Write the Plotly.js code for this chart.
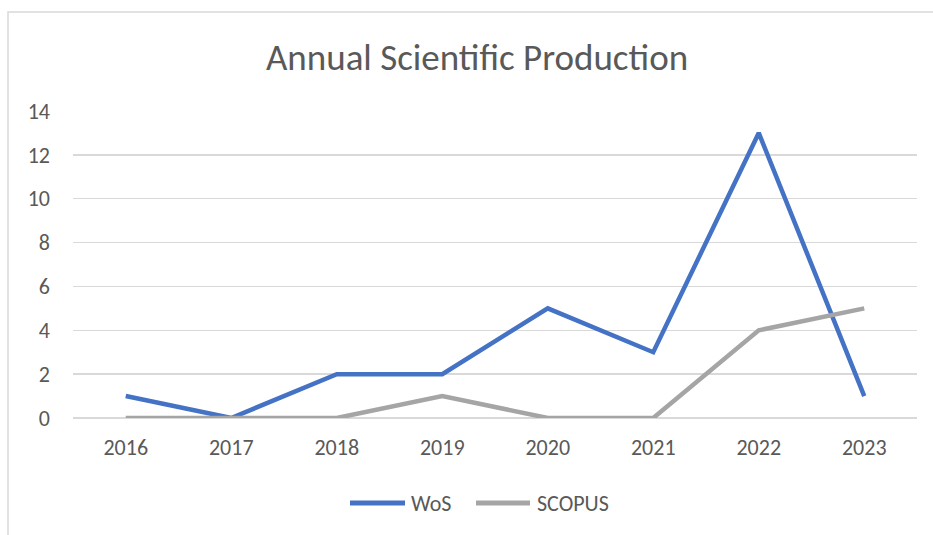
<!DOCTYPE html>
<html>
<head>
<meta charset="utf-8">
<script src="https://cdn.plot.ly/plotly-3.0.1.min.js"></script>
<style>html,body{margin:0;padding:0;background:#fff;}#chart{width:933px;height:535px;}</style>
</head>
<body>
<div id="chart"></div>
<script>
const years = ['2016','2017','2018','2019','2020','2021','2022','2023'];
const wos = [1, 0, 2, 2, 5, 3, 13, 1];
const scopus = [0, 0, 0, 1, 0, 0, 4, 5];
const yTicks = [0, 2, 4, 6, 8, 10, 12, 14];
const seriesNames = ['WoS', 'SCOPUS'];
const seriesColors = ['#4472C4', '#A5A5A5'];

const font = "Calibri, Carlito, Lato, 'Open Sans', 'Liberation Sans', sans-serif";
const traces = [
  {x: years, y: wos, name: seriesNames[0], type: 'scatter', mode: 'lines',
   line: {color: seriesColors[0], width: 4.5}, showlegend: false},
  {x: years, y: scopus, name: seriesNames[1], type: 'scatter', mode: 'lines',
   line: {color: seriesColors[1], width: 4.5}, showlegend: false}
];
const L = 73, R = 917, T = 111, B = 418;
const pw = R - L, ph = B - T;
const px = v => (v - L) / pw;
const py = v => (B - v) / ph;

// custom legend (long line samples like the original)
const legY = 503;
const legItems = [
  {x0: 350, x1: 405, tx: 409},
  {x0: 476, x1: 530, tx: 535}
];
const shapes = [{type: 'rect', xref: 'paper', yref: 'paper',
  x0: px(8), x1: px(940), y0: py(545), y1: py(12),
  line: {color: '#D9D9D9', width: 1.5}, layer: 'below'}];
const annotations = [];
legItems.forEach((it, i) => {
  shapes.push({type: 'line', xref: 'paper', yref: 'paper',
    x0: px(it.x0), x1: px(it.x1), y0: py(legY), y1: py(legY),
    line: {color: seriesColors[i], width: 5}});
  annotations.push({xref: 'paper', yref: 'paper', x: px(it.tx), y: py(legY),
    xanchor: 'left', yanchor: 'middle', text: seriesNames[i], showarrow: false,
    font: {size: 22, color: '#595959', family: font}});
});

const layout = {
  width: 933, height: 535,
  margin: {l: L, r: 933 - R, t: T, b: 535 - B},
  paper_bgcolor: '#fff', plot_bgcolor: '#fff',
  font: {family: font, color: '#595959'},
  title: {text: 'Annual Scientific Production', font: {size: 37, color: '#595959', family: font},
          x: 477/933, xref: 'container', xanchor: 'center', y: 1 - 57/535, yref: 'container', yanchor: 'middle'},
  xaxis: {type: 'category', range: [-0.5, 7.5], showgrid: false, zeroline: false,
          showline: false, ticks: '', ticklabelstandoff: 14, tickfont: {size: 22, color: '#595959'}, fixedrange: true},
  yaxis: {range: [0, 14], tickvals: yTicks, showgrid: true, gridcolor: '#D9D9D9', gridwidth: 1.3,
          zeroline: true, zerolinecolor: '#D9D9D9', zerolinewidth: 1.3,
          showline: false, ticks: '', ticklabelstandoff: 22, tickfont: {size: 22, color: '#595959'}, fixedrange: true},
  showlegend: false,
  shapes: shapes,
  annotations: annotations
};
Plotly.newPlot('chart', traces, layout, {displayModeBar: false, staticPlot: true});
</script>
</body>
</html>
